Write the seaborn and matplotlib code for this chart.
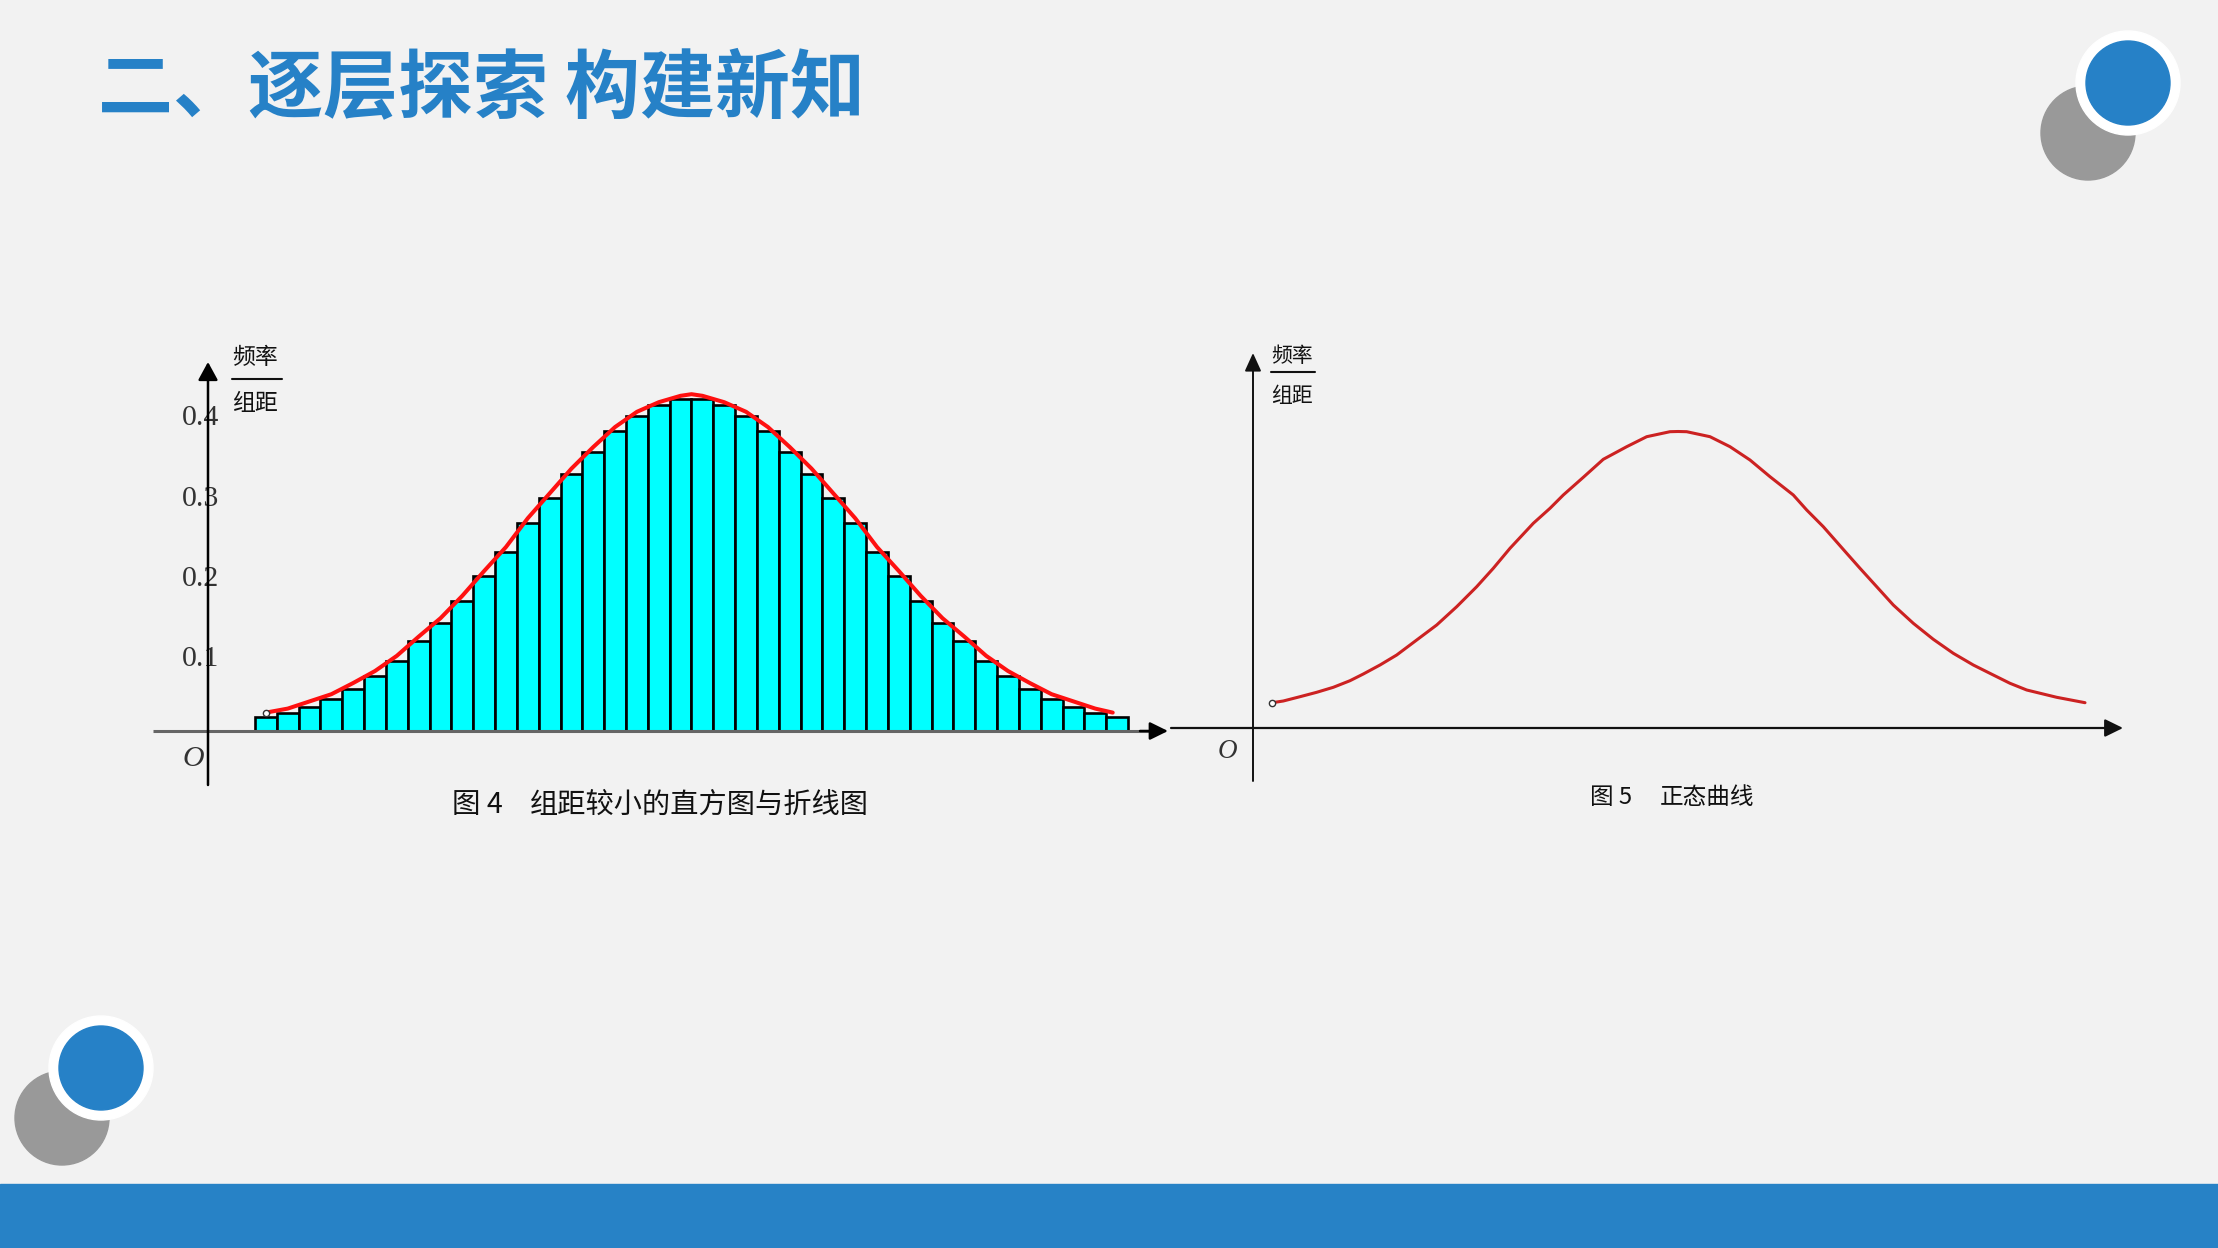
import matplotlib
matplotlib.use("Agg")
import matplotlib.pyplot as plt
import matplotlib.transforms as mtransforms
from matplotlib.patches import Circle, Rectangle
import seaborn as sns
import numpy as np

# ---------------- data ----------------
# left chart: histogram with small bin width (40 bins, unit width, centred on 0)
bin_edges = list(range(-20, 21))
bar_heights = [0.017, 0.022, 0.030, 0.040, 0.053, 0.069, 0.088, 0.112, 0.135, 0.163,
               0.194, 0.224, 0.260, 0.291, 0.321, 0.349, 0.375, 0.394, 0.407, 0.415,
               0.415, 0.407, 0.394, 0.375, 0.349, 0.321, 0.291, 0.260, 0.224, 0.194,
               0.163, 0.135, 0.112, 0.088, 0.069, 0.053, 0.040, 0.030, 0.022, 0.017]
curve_left_x = [-19.5, -18.5, -17.5, -16.5, -15.5, -14.5, -13.5, -12.5, -11.5, -10.5,
                -9.5, -8.5, -7.5, -6.5, -5.5, -4.5, -3.5, -2.5, -1.5, -0.5, 0.0,
                0.5, 1.5, 2.5, 3.5, 4.5, 5.5, 6.5, 7.5, 8.5, 9.5,
                10.5, 11.5, 12.5, 13.5, 14.5, 15.5, 16.5, 17.5, 18.5, 19.3]
curve_left_y = [0.023, 0.028, 0.037, 0.046, 0.060, 0.075, 0.094, 0.118, 0.141, 0.169,
                0.200, 0.230, 0.266, 0.297, 0.328, 0.355, 0.380, 0.399, 0.411, 0.419, 0.421,
                0.419, 0.411, 0.399, 0.380, 0.355, 0.328, 0.297, 0.266, 0.230, 0.200,
                0.169, 0.141, 0.118, 0.094, 0.075, 0.060, 0.046, 0.037, 0.028, 0.023]
ytick_values = [0.1, 0.2, 0.3, 0.4]
ytick_labels = ["0.1", "0.2", "0.3", "0.4"]

# right chart: normal curve (arbitrary units)
curve_right_x = [0.193, 0.303, 0.47, 0.637, 0.803, 0.97, 1.103, 1.27, 1.437, 1.637,
                 1.837, 2.037, 2.237, 2.403, 2.57, 2.803, 2.97, 3.103, 3.303, 3.503,
                 3.737, 3.937, 4.17, 4.25, 4.337, 4.57, 4.77, 4.97, 5.17, 5.403,
                 5.537, 5.703, 5.937, 6.07, 6.237, 6.403, 6.603, 6.803, 7.003, 7.203,
                 7.403, 7.57, 7.737, 8.037, 8.32]
curve_right_y = [0.253, 0.27, 0.313, 0.357, 0.407, 0.473, 0.54, 0.63, 0.73, 0.88,
                 1.03, 1.213, 1.413, 1.597, 1.797, 2.047, 2.197, 2.33, 2.507, 2.687,
                 2.813, 2.913, 2.963, 2.965, 2.963, 2.913, 2.813, 2.68, 2.513, 2.33,
                 2.18, 2.013, 1.747, 1.597, 1.413, 1.23, 1.047, 0.887, 0.747, 0.63,
                 0.53, 0.447, 0.38, 0.307, 0.253]

title_text = "二、逐层探索 构建新知"
caption1_num, caption1_text = "图 4", "组距较小的直方图与折线图"
caption2_num, caption2_text = "图 5", "正态曲线"
ylabel_top, ylabel_bottom = "频率", "组距"

# ---------------- style ----------------
sns.set_theme(style="white")
plt.rcParams['font.family'] = ['Noto Sans CJK SC', 'DejaVu Sans']

W, H = 2218, 1248
BG = "#F2F2F2"
BLUE = "#2681C7"
fig = plt.figure(figsize=(W / 100, H / 100), dpi=100, facecolor=BG)

# background / decoration axes in pixel coordinates
bg = fig.add_axes([0, 0, 1, 1])
bg.set_xlim(0, W)
bg.set_ylim(H, 0)
bg.axis("off")
bg.set_facecolor(BG)
bg.add_patch(Rectangle((0, 0), W, H, color=BG, zorder=0))
bg.add_patch(Rectangle((0, 1184), W, 64, color="#2782C6", zorder=1))

def deco(cx_g, cy_g, cx_b, cy_b):
    bg.add_patch(Circle((cx_g, cy_g), 47, color="#999999", zorder=2))
    bg.add_patch(Circle((cx_b, cy_b), 52, color="white", zorder=3))
    bg.add_patch(Circle((cx_b, cy_b), 42, color=BLUE, zorder=4))

deco(2088, 133, 2128, 83)
deco(62, 1118, 101, 1068)

bg.text(98, 89, title_text, ha="left", va="center", fontsize=54,
        fontweight="heavy", color=BLUE, zorder=5)

TXT = "#111111"
bg.text(452, 805, caption1_num, ha="left", va="center", fontsize=20.5, color=TXT)
bg.text(530, 805, caption1_text, ha="left", va="center", fontsize=20.3, color=TXT)
bg.text(1590, 797, caption2_num, ha="left", va="center", fontsize=17, color=TXT)
bg.text(1660, 797, caption2_text, ha="left", va="center", fontsize=17, color=TXT)

# fraction labels
bg.text(232, 358, ylabel_top, ha="left", va="center", fontsize=16.5, color=TXT)
bg.plot([232, 282], [379, 379], color=TXT, lw=1.5)
bg.text(232, 404, ylabel_bottom, ha="left", va="center", fontsize=16.5, color=TXT)
bg.text(1271, 356, ylabel_top, ha="left", va="center", fontsize=15, color=TXT)
bg.plot([1271, 1315], [372, 372], color=TXT, lw=1.5)
bg.text(1271, 396, ylabel_bottom, ha="left", va="center", fontsize=15, color=TXT)

def px_axes(x0, y0, x1, y1):
    a = fig.add_axes([x0 / W, 1 - y1 / H, (x1 - x0) / W, (y1 - y0) / H])
    a.set_facecolor("none")
    a.axis("off")
    return a

# ---------------- left chart ----------------
L_CX, L_UNIT, L_BASE, L_SCALE = 691.5, 21.825, 731, 800.0
lx = lambda p: (p - L_CX) / L_UNIT
ly = lambda p: (L_BASE - p) / L_SCALE
axl = px_axes(150, 340, 1180, 800)
axl.set_xlim(lx(150), lx(1180))
axl.set_ylim(ly(800), ly(340))

centers = [(bin_edges[i] + bin_edges[i + 1]) / 2 for i in range(len(bin_edges) - 1)]
sns.histplot(x=centers, weights=bar_heights, bins=bin_edges, stat="count",
             color="#00FFFF", edgecolor="black", linewidth=1.9, alpha=1.0, ax=axl, zorder=2)
axl.axis("off")
sns.lineplot(x=curve_left_x, y=curve_left_y, color="#FF1010", linewidth=2.9,
             ax=axl, zorder=4, sort=False, solid_joinstyle="round", solid_capstyle="round")
axl.plot(curve_left_x[0], curve_left_y[0], marker="o", ms=4.5, mfc="white",
         mec="#333333", mew=1.0, zorder=5)

# axes lines
axl.plot([lx(153), lx(1150)], [0, 0], color="#666666", lw=2.2, zorder=3,
         solid_capstyle="butt")
axl.annotate("", xy=(lx(1168), 0), xytext=(lx(1140), 0),
             arrowprops=dict(arrowstyle="-|>,head_length=0.55,head_width=0.27",
                             mutation_scale=20, lw=1.8, color="black",
                             shrinkA=0, shrinkB=0), zorder=3)
axl.annotate("", xy=(lx(208), ly(362)), xytext=(lx(208), ly(785)),
             arrowprops=dict(arrowstyle="-|>,head_length=0.55,head_width=0.3",
                             mutation_scale=20, lw=1.8, color="black",
                             shrinkA=0, shrinkB=0), zorder=6)
off = mtransforms.ScaledTranslation(0, -7.5 / 100, fig.dpi_scale_trans)
for v, lab in zip(ytick_values, ytick_labels):
    axl.text(lx(219), v, lab, ha="right", va="center", fontsize=21.5,
             family="Liberation Serif", color="#333333",
             transform=axl.transData + off, zorder=5)
axl.text(lx(193), ly(759), "O", ha="center", va="center", fontsize=21.5,
         family="Liberation Serif", style="italic", color="#333333")

# ---------------- right chart ----------------
R_OX, R_OY, R_S = 1253, 728, 100.0
rx = lambda p: (p - R_OX) / R_S
ry = lambda p: (R_OY - p) / R_S
axr = px_axes(1160, 330, 2150, 800)
axr.set_xlim(rx(1160), rx(2150))
axr.set_ylim(ry(800), ry(330))
sns.lineplot(x=curve_right_x, y=curve_right_y, color="#CC2222", linewidth=2.2,
             ax=axr, zorder=4, sort=False, solid_joinstyle="round", solid_capstyle="round")
axr.axis("off")
axr.plot(curve_right_x[0], curve_right_y[0], marker="o", ms=4.5, mfc="white",
         mec="#333333", mew=1.0, zorder=5)
axr.annotate("", xy=(rx(2123), 0), xytext=(rx(1171), 0),
             arrowprops=dict(arrowstyle="-|>,head_length=0.55,head_width=0.27",
                             mutation_scale=20, lw=1.6, color="#111111",
                             shrinkA=0, shrinkB=0))
axr.annotate("", xy=(0, ry(353)), xytext=(0, ry(781)),
             arrowprops=dict(arrowstyle="-|>,head_length=0.55,head_width=0.25",
                             mutation_scale=20, lw=1.4, color="#111111",
                             shrinkA=0, shrinkB=0))
axr.text(rx(1227), ry(751), "O", ha="center", va="center", fontsize=19.5,
         family="Liberation Serif", style="italic", color="#333333")

fig.savefig("out.png", dpi=100, facecolor=BG)
